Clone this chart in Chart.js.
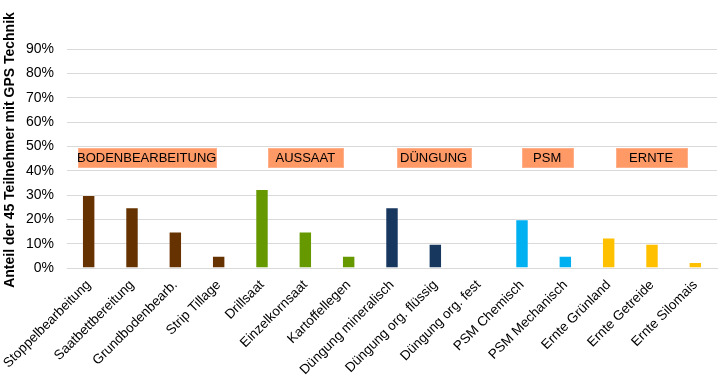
<!DOCTYPE html>
<html>
<head>
<meta charset="utf-8">
<script src="https://cdn.jsdelivr.net/npm/chart.js@4.4.1/dist/chart.umd.min.js"></script>
<style>
  html, body { margin: 0; padding: 0; background: #fff; }
  #wrap { width: 720px; height: 380px; position: relative; }
</style>
</head>
<body>
<div id="wrap"><canvas id="chartGps" width="720" height="380"></canvas></div>
<script>
// Kategorien (Arbeitsgänge)
var categories = [
  'Stoppelbearbeitung', 'Saatbettbereitung', 'Grundbodenbearb.', 'Strip Tillage',
  'Drillsaat', 'Einzelkornsaat', 'Kartoffellegen',
  'Düngung mineralisch', 'Düngung org. flüssig', 'Düngung org. fest',
  'PSM Chemisch', 'PSM Mechanisch',
  'Ernte Grünland', 'Ernte Getreide', 'Ernte Silomais'
];

// Anteil der Teilnehmer mit GPS Technik (0..1)
var shares = [0.30, 0.25, 0.15, 0.05, 0.325, 0.15, 0.05, 0.25, 0.10, 0, 0.20, 0.05, 0.125, 0.10, 0.025];

// Gruppe je Kategorie
var groupOf = [0, 0, 0, 0, 1, 1, 1, 2, 2, 2, 3, 3, 4, 4, 4];
var groupNames = ['BODENBEARBEITUNG', 'AUSSAAT', 'DÜNGUNG', 'PSM', 'ERNTE'];

// Achsenbeschriftung
var yTicks = [0, 0.1, 0.2, 0.3, 0.4, 0.5, 0.6, 0.7, 0.8, 0.9];

var groupColors = ['#663300', '#669900', '#17375E', '#00B0F0', '#FFC000'];

var FONT = "'Liberation Sans', Arial, Helvetica, sans-serif";

/* ---------- Beschriftungskästen über den Gruppen ---------- */
var groupBoxes = {
  id: 'groupBoxes',
  afterDatasetsDraw: function (chart, args, opts) {
    var ctx = chart.ctx;
    var x = chart.scales.x, y = chart.scales.y;
    var cy = y.getPixelForValue(opts.level);
    ctx.save();
    ctx.font = '13px ' + FONT;
    ctx.textAlign = 'center';
    ctx.textBaseline = 'middle';
    opts.boxes.forEach(function (b, i) {
      var cx = x.getPixelForValue(b.at);
      var left = Math.round(cx - b.width / 2) + 0.5;
      var top = Math.round(cy - opts.height / 2) + 0.5;
      ctx.fillStyle = '#FF9966';
      ctx.fillRect(left, top, b.width, opts.height);
      ctx.strokeStyle = '#FFB08A';
      ctx.lineWidth = 1;
      ctx.strokeRect(left, top, b.width, opts.height);
      ctx.fillStyle = '#000';
      ctx.fillText(groupNames[i], cx, cy + 1);
    });
    ctx.restore();
  }
};

new Chart(document.getElementById('chartGps'), {
  type: 'bar',
  data: {
    labels: categories,
    datasets: [{
      data: shares,
      backgroundColor: groupOf.map(function (g) { return groupColors[g]; }),
      borderColor: 'rgba(255,255,255,0.35)',
      borderWidth: 1,
      barPercentage: 0.31,
      categoryPercentage: 1
    }]
  },
  options: {
    responsive: false,
    animation: false,
    layout: { padding: { top: 32, right: 3, bottom: 0, left: 0 } },
    plugins: {
      legend: { display: false },
      tooltip: { enabled: false },
      groupBoxes: {
        level: 0.453,
        height: 19,
        boxes: [
          { at: 1.34, width: 138 },
          { at: 5.0, width: 75 },
          { at: 7.96, width: 74 },
          { at: 10.58, width: 51 },
          { at: 12.98, width: 71 }
        ]
      }
    },
    scales: {
      x: {
        grid: { display: false, drawTicks: false },
        border: { display: true, color: '#D9D9D9', width: 1 },
        ticks: {
          autoSkip: false,
          minRotation: 45,
          maxRotation: 45,
          padding: 9,
          color: '#000',
          font: { family: FONT, size: 13.5 }
        },
        afterFit: function (s) { s.height = 112; s.paddingLeft = 0; s.paddingRight = 0; }
      },
      y: {
        min: 0,
        max: 0.97,
        grid: { color: '#D9D9D9', lineWidth: 1, drawTicks: false },
        border: { display: false },
        afterBuildTicks: function (s) {
          s.ticks = yTicks.map(function (v) { return { value: v }; });
        },
        ticks: {
          padding: 13,
          color: '#000',
          font: { family: FONT, size: 14 },
          callback: function (v) { return Math.round(v * 100) + '%'; }
        },
        title: {
          display: true,
          text: 'Anteil der 45 Teilnehmer mit GPS Technik',
          color: '#000',
          font: { family: FONT, size: 14, weight: 'bold' },
          padding: { top: 2, bottom: 0 }
        },
        afterFit: function (s) { s.width = 67; }
      }
    }
  },
  plugins: [groupBoxes]
});
</script>
</body>
</html>
